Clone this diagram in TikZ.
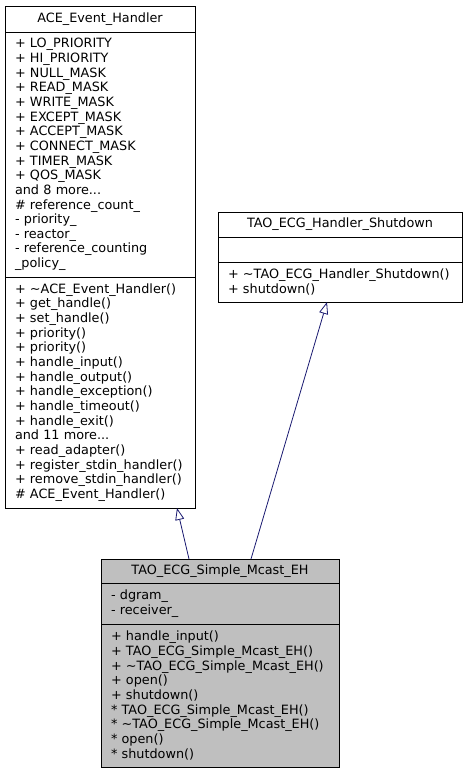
\documentclass[tikz,border=0pt]{standalone}
\usepackage{fontspec}
\setmainfont{DejaVu Sans}
\usepackage{tikz}
\usetikzlibrary{positioning}
\usetikzlibrary{calc}
\usetikzlibrary{arrows.meta}
\definecolor{edgeblue}{HTML}{191970}
\definecolor{classgray}{HTML}{BFBFBF}
\tikzset{every picture/.style={line width=0.9pt},
classname/.style={draw,anchor=north west,outer sep=0pt,inner sep=0pt,font=\fontsize{12.8}{14.65}\selectfont},
members/.style={draw,outer sep=0pt,inner xsep=10pt,inner ysep=0pt,align=left,font=\fontsize{12.8}{14.65}\selectfont},
inherit/.style={draw=edgeblue,line width=0.8pt,-{Triangle[open,length=12pt,width=9pt]}}}

\begin{document}
\begin{tikzpicture}[x=1pt,y=1pt]
\useasboundingbox (0,0) rectangle (468,-773);
% base class
\node (ace) at (5,-6) [classname,minimum width=190pt,minimum height=26pt] {ACE\_Event\_Handler};
\node (aceAttr) [members,below=0pt of ace,text width=170pt,minimum height=245pt] {+ LO\_PRIORITY\\+ HI\_PRIORITY\\+ NULL\_MASK\\+ READ\_MASK\\+ WRITE\_MASK\\+ EXCEPT\_MASK\\+ ACCEPT\_MASK\\+ CONNECT\_MASK\\+ TIMER\_MASK\\+ QOS\_MASK\\and 8 more...\\\# reference\_count\_\\- priority\_\\- reactor\_\\- reference\_counting\\\_policy\_};
\node (aceOps) [members,below=0pt of aceAttr,text width=170pt,minimum height=231pt] {+ \textasciitilde ACE\_Event\_Handler()\\+ get\_handle()\\+ set\_handle()\\+ priority()\\+ priority()\\+ handle\_input()\\+ handle\_output()\\+ handle\_exception()\\+ handle\_timeout()\\+ handle\_exit()\\and 11 more...\\+ read\_adapter()\\+ register\_stdin\_handler()\\+ remove\_stdin\_handler()\\\# ACE\_Event\_Handler()};
% shutdown class
\node (shut) at (218,-212) [classname,minimum width=244pt,minimum height=25pt] {TAO\_ECG\_Handler\_Shutdown};
\node (shutAttr) [members,below=0pt of shut,text width=224pt,minimum height=25pt] {};
\node (shutOps) [members,below=0pt of shutAttr,text width=224pt,minimum height=40pt] {+ \textasciitilde TAO\_ECG\_Handler\_Shutdown()\\+ shutdown()};
% derived class
\node (mcast) at (101,-559) [classname,fill=classgray,minimum width=238pt,minimum height=24pt] {TAO\_ECG\_Simple\_Mcast\_EH};
\node (mcastAttr) [members,fill=classgray,below=0pt of mcast,text width=218pt,minimum height=41pt] {- dgram\_\\- receiver\_};
\node (mcastOps) [members,fill=classgray,below=0pt of mcastAttr,text width=218pt,minimum height=143pt] {+ handle\_input()\\+ TAO\_ECG\_Simple\_Mcast\_EH()\\+ \textasciitilde TAO\_ECG\_Simple\_Mcast\_EH()\\+ open()\\+ shutdown()\\{*} TAO\_ECG\_Simple\_Mcast\_EH()\\{*} \textasciitilde TAO\_ECG\_Simple\_Mcast\_EH()\\{*} open()\\{*} shutdown()};
\draw[inherit] ($(mcast.north)+(-31pt,0)$) -- ($(aceOps.south)+(77pt,0)$);
\draw[inherit] ($(mcast.north)+(31pt,0)$) -- ($(shutOps.south)+(-13pt,0)$);
\end{tikzpicture}
\end{document}
